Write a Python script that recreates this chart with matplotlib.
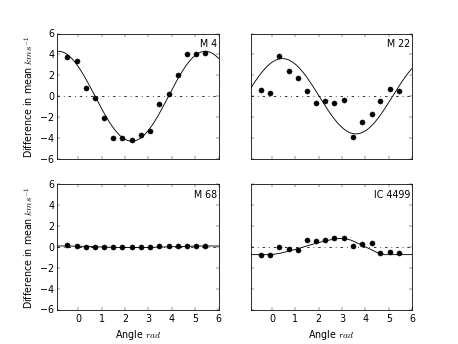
import numpy as np
import matplotlib
matplotlib.use("Agg")
import matplotlib.pyplot as plt

plt.style.use("classic")

# angle bins (rad) shared by all clusters
angles = [-0.47, -0.07, 0.31, 0.71, 1.10, 1.50, 1.89, 2.29,
          2.67, 3.07, 3.47, 3.86, 4.26, 4.64, 5.04, 5.43]

m4_diff = [3.77, 3.35, 0.77, -0.16, -2.04, -3.99, -3.99, -4.18,
           -3.73, -3.32, -0.73, 0.19, 2.04, 4.05, 4.05, 4.18]
m22_diff = [0.61, 0.32, 3.89, 2.46, 1.72, 0.51, -0.67, -0.45,
            -0.61, -0.32, -3.86, -2.46, -1.72, -0.48, 0.70, 0.48]
m68_diff = [0.13, 0.06, 0.0, -0.03, -0.03, -0.06, -0.06, -0.06,
            -0.06, 0.0, 0.03, 0.06, 0.06, 0.10, 0.10, 0.10]
ic4499_diff = [-0.80, -0.80, 0.0, -0.19, -0.29, 0.67, 0.54, 0.67,
               0.83, 0.83, 0.06, 0.22, 0.35, -0.61, -0.48, -0.61]

# sinusoid fits: (amplitude, angle of maximum, offset)
m4_fit = (4.3, 5.43, 0.0)
m22_fit = (3.6, 0.45, 0.0)
m68_fit = (0.08, 5.5, 0.0)

# IC 4499 fitted curve
ic4499_curve_x = [-0.9, 0.0, 0.4, 0.8, 1.2, 1.6, 2.0, 2.4, 2.8, 3.1,
                  3.4, 3.8, 4.2, 4.5, 4.75, 6.0]
ic4499_curve_y = [-0.75, -0.75, -0.6, -0.38, -0.12, 0.15, 0.4, 0.62, 0.78,
                  0.8, 0.62, 0.2, -0.22, -0.55, -0.75, -0.75]

names = ["M 4", "M 22", "M 68", "IC 4499"]
diffs = [m4_diff, m22_diff, m68_diff, ic4499_diff]
fits = [m4_fit, m22_fit, m68_fit, None]

fig, axes = plt.subplots(2, 2, figsize=(8, 6.026), dpi=57.25,
                         sharex=True, sharey=True, facecolor="white")

xs = np.linspace(-0.9, 6.0, 300)
for ax, name, diff, fit in zip(axes.flat, names, diffs, fits):
    ax.plot(xs, np.zeros_like(xs), "k-.")
    if fit is not None:
        amp, phase, off = fit
        ax.plot(xs, off + amp * np.cos(xs - phase), "k-", lw=1.1)
    else:
        ax.plot(ic4499_curve_x, ic4499_curve_y, "k-", lw=1.1)
    ax.plot(angles, diff, "ko", markersize=6.5)
    ax.text(0.99, 0.9, name, transform=ax.transAxes, ha="right",
            va="baseline", fontsize=12)
    ax.set_xlim(-0.9, 6)
    ax.set_ylim(-6, 6)
    ax.set_yticks([-6, -4, -2, 0, 2, 4, 6])
    ax.set_xticks([0, 1, 2, 3, 4, 5, 6])

for ax in axes[:, 0]:
    ax.set_ylabel("Difference in mean $kms^{-1}$")
for ax in axes[1, :]:
    ax.set_xlabel("Angle $rad$")

fig.savefig("out.png", dpi=57.25, facecolor="white")
